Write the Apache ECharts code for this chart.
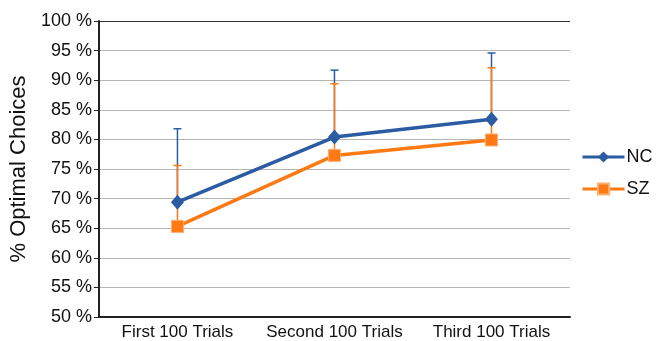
<!DOCTYPE html>
<html><head><meta charset="utf-8">
<script src="https://cdn.jsdelivr.net/npm/echarts@6/dist/echarts.min.js"></script>
<style>html,body{margin:0;padding:0;background:#fff}#c{width:656px;height:341px}</style>
</head><body><div id="c"></div>
<script>
var categories = ['First 100 Trials', 'Second 100 Trials', 'Third 100 Trials'];
var ncValues = [69.4, 80.4, 83.4];
var szValues = [65.3, 77.3, 79.9];
var ncUpper = [81.8, 91.7, 94.6];
var szUpper = [75.6, 89.4, 92.1];
var yTicks = [50, 55, 60, 65, 70, 75, 80, 85, 90, 95, 100];

var NC_COLOR = '#2a5ba3';
var SZ_COLOR = '#ff7a14';
var FONT = 'Liberation Sans, Arial, Helvetica, sans-serif';

function errSeries(name, vals, ups, color) {
  var data = vals.map(function (v, i) { return [i, v, ups[i]]; });
  return {
    type: 'custom', name: name + ' err', silent: true, z: 2,
    data: data,
    renderItem: function (params, api) {
      var i = api.value(0);
      var lo = api.coord([i, api.value(1)]);
      var hi = api.coord([i, api.value(2)]);
      var hw = 4;
      return {
        type: 'group',
        children: [
          { type: 'line', shape: { x1: lo[0], y1: lo[1], x2: hi[0], y2: hi[1] }, style: { stroke: color, lineWidth: 1.5 } },
          { type: 'line', shape: { x1: hi[0] - hw, y1: hi[1], x2: hi[0] + hw, y2: hi[1] }, style: { stroke: color, lineWidth: 1.5 } }
        ]
      };
    }
  };
}

var gridColors = yTicks.map(function (t, i) { return i === yTicks.length - 1 ? '#333' : '#b4b4b4'; });

var chart = echarts.init(document.getElementById('c'), null, { renderer: 'canvas' });
chart.setOption({
  animation: false,
  backgroundColor: '#fff',
  textStyle: { fontFamily: FONT },
  grid: { left: 97, right: 86, top: 21, bottom: 21 },
  legend: {
    orient: 'vertical', left: 576, top: 143, itemGap: 14,
    itemWidth: 42, itemHeight: 14,
    lineStyle: { width: 3 },
    textStyle: { fontSize: 18, color: '#111', fontFamily: FONT, padding: [0, 0, 0, -3] },
    data: ['NC', 'SZ']
  },
  xAxis: {
    type: 'category', data: categories, boundaryGap: true,
    axisLine: { lineStyle: { color: '#222', width: 2 } },
    axisTick: { show: false },
    axisLabel: { interval: 0, hideOverlap: false, fontSize: 17, color: '#111', margin: 7, fontFamily: FONT }
  },
  yAxis: {
    type: 'value', min: 50, max: 100, interval: 5,
    name: '% Optimal Choices', nameLocation: 'middle', nameGap: 68,
    nameTextStyle: { fontSize: 22, color: '#111', fontFamily: FONT },
    axisLine: { show: true, lineStyle: { color: '#222', width: 2 } },
    axisTick: { show: true, length: 5, lineStyle: { color: '#222' } },
    axisLabel: { fontSize: 18, color: '#111', margin: 7, fontFamily: FONT, formatter: function (v) { return v + ' %'; } },
    splitLine: { show: true, lineStyle: { color: gridColors, width: 1.2 } }
  },
  series: [
    errSeries('NC', ncValues, ncUpper, NC_COLOR),
    errSeries('SZ', szValues, szUpper, SZ_COLOR),
    {
      name: 'NC', type: 'line', data: ncValues, z: 4,
      symbol: 'diamond', symbolSize: [13, 15],
      lineStyle: { color: NC_COLOR, width: 3.5 },
      itemStyle: { color: NC_COLOR }
    },
    {
      name: 'SZ', type: 'line', data: szValues, z: 3,
      symbol: 'rect', symbolSize: 12,
      lineStyle: { color: SZ_COLOR, width: 3.5 },
      itemStyle: { color: SZ_COLOR, borderColor: '#ffb070', borderWidth: 1 }
    }
  ]
});
</script></body></html>
